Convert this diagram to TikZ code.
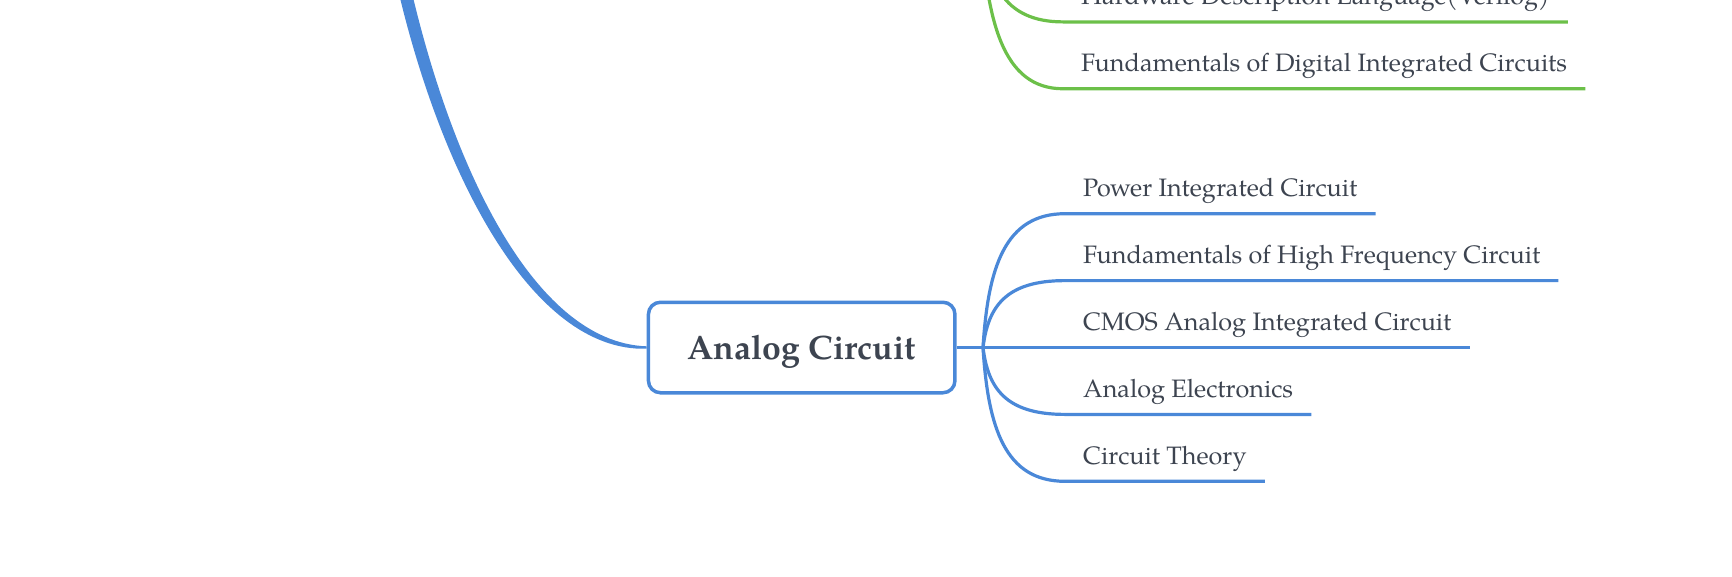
\documentclass[tikz,border=0pt]{standalone}
\usepackage{fontspec}
\setmainfont{texgyrepagella}[Extension=.otf, UprightFont=*-regular, BoldFont=*-bold, ItalicFont=*-italic, BoldItalicFont=*-bolditalic]
\usetikzlibrary{calc}
\definecolor{mmblue}{HTML}{4A88D8}
\definecolor{mmgreen}{HTML}{6CC049}
\definecolor{mmtext}{HTML}{3D4450}
\tikzset{
  leaf/.style={anchor=south west, inner xsep=18pt, inner ysep=0pt, text depth=17pt,
    text=mmtext, font=\fontsize{25.2}{30}\selectfont},
  bline/.style={draw=mmblue, line width=3.2pt},
  gline/.style={draw=mmgreen, line width=3.2pt},
  rootbox/.style={draw=mmblue, line width=3.5pt, rounded corners=12pt, fill=white,
    minimum width=306.5pt, minimum height=90.5pt, text height=23.4pt, text depth=0pt,
    inner sep=0pt, text=mmtext, font=\fontsize{33.8}{39}\selectfont\bfseries}
}
\begin{document}
\begin{tikzpicture}[x=1pt,y=-1pt]
\useasboundingbox (0,0) rectangle (1732,576);
\clip (0,0) rectangle (1732,576);
% coordinates of off-picture sources and forks
\coordinate (bsrc) at (398,-40);
\coordinate (bfork) at (983,347.5);
\coordinate (gfork) at (981,-78.5);
% nodes
\node[leaf] (c1) at (1065,213.7) {Power Integrated Circuit};
\node[leaf] (c2) at (1065,280.6) {Fundamentals of High Frequency Circuit};
\node[leaf] (c3) at (1065,347.5) {CMOS Analog Integrated Circuit};
\node[leaf] (c4) at (1065,414.4) {Analog Electronics};
\node[leaf] (c5) at (1065,481.3) {Circuit Theory};
\node[leaf] (g1) at (1063,21.9) {Hardware Description Language(Verilog)};
\node[leaf] (g2) at (1063,88.75) {Fundamentals of Digital Integrated Circuits};
\node[rootbox] (ac) at (801.7,347.5) {Analog Circuit};
% tapered main branch into the root box
\fill[mmblue] ($(bsrc)+(6.3,-1.3)$) .. controls (446.3,158.7) and (532,342.5) .. ($(ac.west)+(0,-1.2)$)
  -- ($(ac.west)+(0,1.2)$) .. controls (528,352.5) and (433.7,161.3) .. ($(bsrc)+(-6.3,1.3)$) -- cycle;
% blue connectors
\draw[bline] (ac.east) -- (bfork);
\foreach \c in {c1,c2,c3,c4,c5}
  \draw[bline] (bfork) .. controls ($(bfork)!0.6!(bfork |- \c.south west)+(5,0)$)
    and ($(bfork |- \c.south west)+(22,0)$) .. (\c.south west) -- (\c.south east);
% green connectors
\foreach \c in {g1,g2}
  \draw[gline] (gfork) .. controls ($(gfork)!0.6!(gfork |- \c.south west)+(5,0)$)
    and ($(gfork |- \c.south west)+(22,0)$) .. (\c.south west) -- (\c.south east);
\end{tikzpicture}
\end{document}
